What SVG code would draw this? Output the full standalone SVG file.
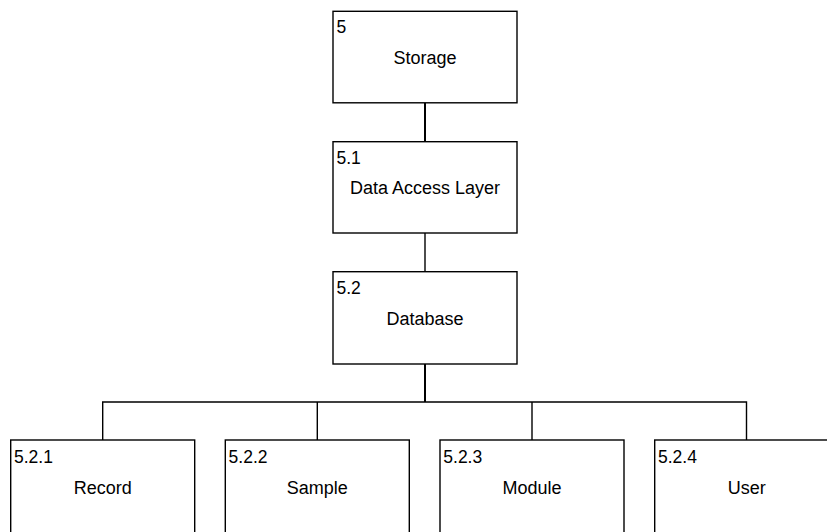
<svg xmlns="http://www.w3.org/2000/svg" width="827" height="532" viewBox="0 0 827 532">
<style>
.box{fill:#fff;stroke:#000;stroke-width:1.4}
.num{font-family:"Liberation Sans",Arial,sans-serif;font-size:17.5px;fill:#000}
.title{font-family:"Liberation Sans",Arial,sans-serif;font-size:18px;fill:#000;text-anchor:middle}
.conn{fill:none;stroke:#000;stroke-width:1.4}
</style>
<rect width="827" height="532" fill="#fff"/>
<g id="connectors">
<path class="conn" d="M425 103V142" style="stroke-width:2"/>
<path class="conn" d="M425 233V272"/>
<path class="conn" d="M425 364V402" style="stroke-width:2"/>
<path class="conn" d="M102.7 440V402H746.5V440"/>
<path class="conn" d="M317.3 402V440"/>
<path class="conn" d="M532 402V440"/>
</g>
<g id="n5">
<rect class="box" x="333" y="11.3" width="184" height="91.5"/>
<text class="num" x="336.5" y="33">5</text>
<text class="title" x="425" y="64">Storage</text>
</g>
<g id="n5.1">
<rect class="box" x="333" y="141.7" width="184" height="91.3"/>
<text class="num" x="336.5" y="164">5.1</text>
<text class="title" x="425" y="194">Data Access Layer</text>
</g>
<g id="n5.2">
<rect class="box" x="333" y="271.7" width="184" height="92.3"/>
<text class="num" x="336.5" y="294">5.2</text>
<text class="title" x="425" y="325">Database</text>
</g>
<g id="n5.2.1">
<rect class="box" x="10.7" y="440" width="184" height="95"/>
<text class="num" x="14" y="463">5.2.1</text>
<text class="title" x="102.7" y="493.5">Record</text>
</g>
<g id="n5.2.2">
<rect class="box" x="225.3" y="440" width="184" height="95"/>
<text class="num" x="228.6" y="463">5.2.2</text>
<text class="title" x="317.3" y="493.5">Sample</text>
</g>
<g id="n5.2.3">
<rect class="box" x="440" y="440" width="184" height="95"/>
<text class="num" x="443.3" y="463">5.2.3</text>
<text class="title" x="532" y="493.5">Module</text>
</g>
<g id="n5.2.4">
<rect class="box" x="654.7" y="440" width="184" height="95"/>
<text class="num" x="658" y="463">5.2.4</text>
<text class="title" x="746.7" y="493.5">User</text>
</g>
</svg>
